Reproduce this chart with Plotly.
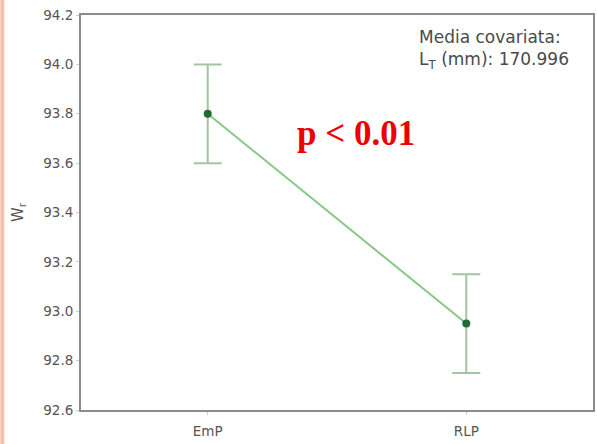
import plotly.graph_objects as go

# Adjusted means of Wr by group, with error bar bounds
groups = ["EmP", "RLP"]
means = [93.80, 92.95]
upper = [94.00, 93.15]
lower = [93.60, 92.75]

y_ticks = [92.6, 92.8, 93.0, 93.2, 93.4, 93.6, 93.8, 94.0, 94.2]

err_plus = [u - m for u, m in zip(upper, means)]
err_minus = [m - l for m, l in zip(means, lower)]

FONT = "DejaVu Sans, Open Sans, sans-serif"

fig = go.Figure()

# error bars (drawn separately so they keep their own colour)
fig.add_trace(go.Scatter(
    x=groups, y=means, mode="markers",
    marker=dict(size=1, color="rgba(0,0,0,0)"),
    error_y=dict(type="data", symmetric=False, array=err_plus, arrayminus=err_minus,
                 color="#a3c4a3", thickness=2, width=14),
    showlegend=False, hoverinfo="skip",
))

# connecting line and mean markers
fig.add_trace(go.Scatter(
    x=groups, y=means, mode="lines+markers",
    line=dict(color="#86c986", width=2),
    marker=dict(size=8, color="#1f6b30"),
    showlegend=False,
))

fig.add_annotation(
    xref="paper", yref="paper", x=0.958, y=0.975, xanchor="right", yanchor="top",
    align="left", showarrow=False,
    text="Media covariata:<br>L<sub>T</sub> (mm): 170.996",
    font=dict(family=FONT, size=17, color="#4a4a4a"),
)

fig.add_annotation(
    x=0.575, y=93.72, xref="x", yref="y", showarrow=False,
    text="<b>p &lt; 0.01</b>",
    font=dict(family="Liberation Serif, DejaVu Serif, serif", size=35, color="#ee0000"),
)

fig.update_layout(
    width=597, height=444,
    margin=dict(l=81, r=2, t=15, b=34),
    paper_bgcolor="white", plot_bgcolor="white",
    shapes=[
        # thin salmon strip along the left edge of the page
        dict(type="rect", xref="paper", yref="paper", x0=-0.1576, x1=-0.1498, y0=-0.1, y1=1.05,
             fillcolor="#f8c0ac", line=dict(width=0), layer="below"),
    ],
)

fig.update_xaxes(
    type="category", range=[-0.49, 1.49],
    showline=True, linecolor="#8c8c8c", linewidth=2, mirror=True,
    ticks="outside", ticklen=3, tickcolor="#cccccc",
    ticklabelstandoff=5,
    showgrid=False, zeroline=False,
    tickfont=dict(family=FONT, size=13.5, color="#555555"),
)
fig.update_yaxes(
    range=[92.6, 94.2], tickvals=y_ticks, ticktext=[f"{v:.1f}" for v in y_ticks],
    showline=True, linecolor="#8c8c8c", linewidth=2, mirror=True,
    ticks="outside", ticklen=3, tickcolor="#cccccc",
    showgrid=False, zeroline=False,
    tickfont=dict(family=FONT, size=13.5, color="#555555"),
    title=dict(text="W<sub>r</sub>", standoff=16,
               font=dict(family=FONT, size=15, color="#555555")),
)

fig.write_html("out.html")
